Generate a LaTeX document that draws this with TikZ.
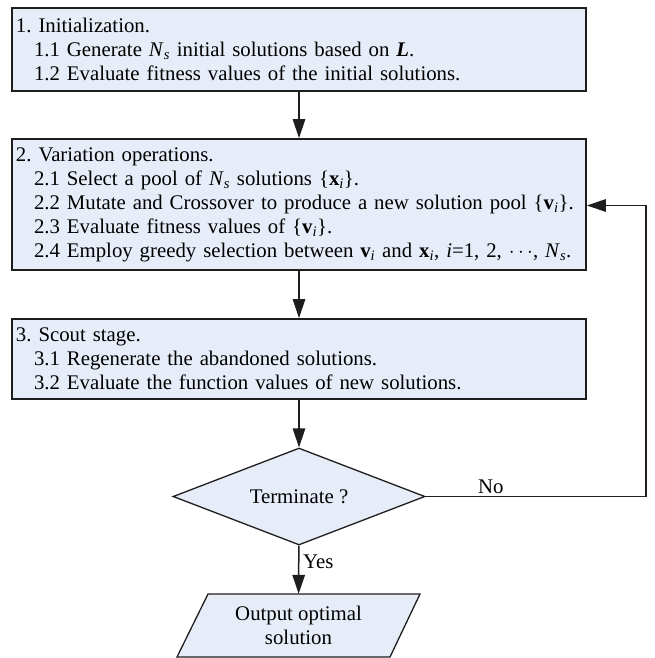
\documentclass[tikz,border=0pt]{standalone}
\usepackage{fontspec}
\setmainfont{Liberation Serif}
\usetikzlibrary{shapes.geometric,arrows.meta}
\definecolor{boxfill}{RGB}{231,237,248}
\definecolor{edge}{RGB}{30,30,30}
\newcommand{\ind}{\hspace*{18pt}}
\newcommand{\Ns}{\textit{N}\textsubscript{\textit{s}}}
\newcommand{\bxi}{\textbf{x}\textsubscript{\textit{i}}}
\newcommand{\bvi}{\textbf{v}\textsubscript{\textit{i}}}
\frenchspacing
\begin{document}
\begin{tikzpicture}[x=1pt,y=1pt,
  txt/.style={font=\fontsize{20.8}{24}\selectfont},
  procbox/.style={txt,draw=edge,line width=1.8pt,fill=boxfill,
    minimum width=574pt,inner xsep=4pt,inner ysep=0pt,text width=566pt,align=left},
  decbox/.style={txt,draw=edge,line width=1.3pt,fill=boxfill,diamond,
    minimum width=252pt,minimum height=97pt,inner sep=0pt,aspect=2.6},
  ioshape/.style={draw=edge,line width=1.3pt,fill=boxfill},
  arr/.style={line width=1.5pt,draw=edge,-{Triangle[length=19pt,width=12.5pt]}},
  lbl/.style={txt,inner sep=0pt}]
\useasboundingbox (0,0) rectangle (654,-658);

\node[procbox,minimum height=83pt] (init) at (299,-49.5)
  {1. Initialization.\\
   \ind 1.1 Generate \Ns{} initial solutions based on \textbf{\textit{L}}.\\
   \ind 1.2 Evaluate fitness values of the initial solutions.};

\node[procbox,minimum height=131pt] (var) at (299,-204.5)
  {2. Variation operations.\\
   \ind 2.1 Select a pool of \Ns{} solutions \{\bxi\}.\\
   \mbox{\ind 2.2 Mutate and Crossover to produce a new solution pool \{\bvi\}.}\\
   \ind 2.3 Evaluate fitness values of \{\bvi\}.\\
   \mbox{\ind 2.4 Employ greedy selection between \bvi{} and \bxi, \textit{i}=1, 2, $\cdots$, \Ns.}};

\node[procbox,minimum height=80pt] (scout) at (299,-359)
  {3. Scout stage.\\
   \ind 3.1 Regenerate the abandoned solutions.\\
   \ind 3.2 Evaluate the function values of new solutions.};

\node[decbox] (term) at (299,-496.5) {Terminate ?};

% output parallelogram drawn round its centre, then the sized text node on top
\coordinate (outc) at (298.5,-625.5);
\path[ioshape] (outc) +(-90.5,31.5) -- +(121.5,31.5) -- +(91.5,-31.5) -- +(-121.5,-31.5) -- cycle;
\node[txt,align=center,minimum width=243pt,minimum height=63pt,inner sep=0pt] (out) at (outc) {Output optimal\\solution};

\coordinate (fbc) at (646,-205.5);

\draw[arr] (init) -- (var);
\draw[arr] (var) -- (scout);
\draw[arr] (scout) -- (term);
\draw[arr] (term) -- (out);
\draw[arr] (term.east) -| (fbc) -- (var.east |- fbc);

\node[lbl,anchor=base west] (yes) at (303,-568) {Yes};
\node[lbl,anchor=base west] (no) at (478,-493) {No};
\end{tikzpicture}
\end{document}
